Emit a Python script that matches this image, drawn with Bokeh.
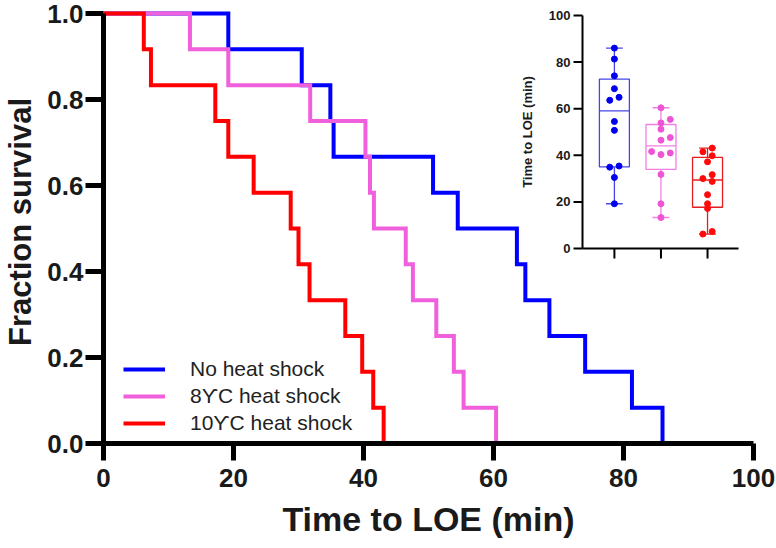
import numpy as np
from math import pi
from bokeh.plotting import figure
from bokeh.models import Range1d, Legend, LegendItem, FixedTicker
from bokeh.core.properties import value
from bokeh.embed import file_html
from bokeh.resources import INLINE

# ---------------- data ----------------
group_names = ["No heat shock", "8\u03d2C heat shock", "10\u03d2C heat shock"]
times_no_hs = [19.2, 30.5, 34.9, 35.4, 50.7, 54.5, 63.6, 64.9, 68.6, 74.1, 81.3, 86.0]
times_8c = [13.3, 19.2, 31.8, 40.3, 41.0, 41.6, 46.5, 47.6, 51.2, 53.9, 55.4, 60.4]
times_10c = [6.2, 7.3, 17.2, 19.2, 23.1, 28.8, 30.0, 31.7, 37.2, 39.8, 41.5, 43.1]

x_ticks = [0, 20, 40, 60, 80, 100]
y_ticks = [0.0, 0.2, 0.4, 0.6, 0.8, 1.0]
y_tick_labels = ["0.0", "0.2", "0.4", "0.6", "0.8", "1.0"]
inset_y_ticks = [0, 20, 40, 60, 80, 100]
inset_y_tick_labels = ["0", "20", "40", "60", "80", "100"]
inset_categories = [1, 2, 3]
inset_y_title = "Time to LOE (min)"

# ---------------- styling (not data) ----------------
line_colors = ["#0000FF", "#F060DC", "#FF0000"]
box_colors = ["#4646E6", "#F27FE6", "#E41E1E"]
point_colors = ["#0000EE", "#EE55D6", "#FF0A0A"]
jitter_no_hs = [0, 0, -1, 1, 0, 0, -1, 1, 0, 0, 0, 0]
jitter_8c = [0, 0, 0, 0, 2, -2, 0, 2, 0, 0, 2, 0]
jitter_10c = [-1, 1, 0, 0, 0, 1, -1, 1, 0, 1, -1, 1]
all_times = [times_no_hs, times_8c, times_10c]
all_jitter = [jitter_no_hs, jitter_8c, jitter_10c]

FONT = "Liberation Sans"
TXT = "#1a1a1a"

# geometry of the main frame (figure px)
W, H = 776, 548
B_LEFT, B_RIGHT, B_TOP, B_BOTTOM = 103, 23, 0, 105
FX0, FX1 = B_LEFT, W - B_RIGHT
FY0, FY1 = B_TOP, H - B_BOTTOM
Y_ONE_PX = 13  # figure y of survival 1.0
y_top = (FY1 - FY0) / (FY1 - Y_ONE_PX)

# inset geometry (figure px)
IN_L, IN_R, IN_T, IN_B = 582, 738, 15, 248
CAT_LO, CAT_HI = 0.315, 3.665
V_LO, V_HI = 0, 100
sx = (IN_R - IN_L) / (CAT_HI - CAT_LO)
sy = (IN_B - IN_T) / (V_HI - V_LO)
ix_start = CAT_LO - (IN_L - FX0) / sx
ix_end = ix_start + (FX1 - FX0) / sx
iy_start = V_LO - (FY1 - IN_B) / sy
iy_end = iy_start + (FY1 - FY0) / sy

# ---------------- main survival plot ----------------
p = figure(width=W, height=H, x_range=Range1d(0, 100), y_range=Range1d(0, y_top),
           output_backend="svg", toolbar_location=None,
           min_border_left=B_LEFT, min_border_right=B_RIGHT,
           min_border_top=B_TOP, min_border_bottom=B_BOTTOM)
p.extra_x_ranges = {"ix": Range1d(ix_start, ix_end)}
p.extra_y_ranges = {"iy": Range1d(iy_start, iy_end)}
p.xgrid.visible = False
p.ygrid.visible = False
p.outline_line_color = None

for ax in (p.xaxis[0], p.yaxis[0]):
    ax.axis_line_width = 5
    ax.axis_line_color = "black"
    ax.major_tick_line_width = 5
    ax.major_tick_line_color = "black"
    ax.major_tick_in = 0
    ax.major_tick_out = 18
    ax.minor_tick_line_color = None
    ax.major_label_text_font = FONT
    ax.major_label_text_font_style = "bold"
    ax.major_label_text_font_size = "26px"
    ax.major_label_text_color = TXT
    ax.axis_label_text_font = FONT
    ax.axis_label_text_font_style = "bold"
    ax.axis_label_text_color = TXT

p.xaxis.ticker = FixedTicker(ticks=x_ticks)
p.yaxis.ticker = FixedTicker(ticks=y_ticks)
p.xaxis.bounds = (x_ticks[0], x_ticks[-1])
p.yaxis.bounds = (y_ticks[0], y_ticks[-1])
p.yaxis.major_label_overrides = {t: l for t, l in zip(y_ticks, y_tick_labels)}
p.xaxis.axis_label = "Time to LOE (min)"
p.yaxis.axis_label = "Fraction survival"
p.xaxis.axis_label_text_font_size = "34px"
p.yaxis.axis_label_text_font_size = "31px"
p.xaxis.major_tick_out = 17
p.xaxis.major_label_standoff = 8
p.yaxis.major_label_standoff = 2
p.xaxis.axis_label_standoff = 10
p.yaxis.axis_label_standoff = 6

items = []
for name, times, col in zip(group_names, all_times, line_colors):
    n = len(times)
    xs = [0.0] + list(times)
    ys = [1.0 - i / n for i in range(n + 1)]
    r = p.step(x=xs, y=ys, mode="after", line_color=col, line_width=4, line_join="miter")
    items.append(LegendItem(label=name, renderers=[r]))

legend = Legend(items=items, location=(20, 8), orientation="vertical",
                border_line_color=None, background_fill_alpha=0,
                label_text_font=FONT, label_text_font_size="21px", label_text_color="#222222",
                glyph_width=42, glyph_height=24, label_height=24, label_standoff=25,
                spacing=3, padding=0, margin=0)
p.add_layout(legend)

# ---------------- inset box plot (drawn on extra ranges) ----------------
R = dict(x_range_name="ix", y_range_name="iy")
p.segment(x0=[CAT_LO, CAT_LO], y0=[V_LO, V_LO], x1=[CAT_LO, CAT_HI], y1=[V_HI, V_LO],
          line_color="black", line_width=2, **R)
p.segment(x0=[CAT_LO - 9 / sx] * len(inset_y_ticks), x1=[CAT_LO] * len(inset_y_ticks),
          y0=inset_y_ticks, y1=inset_y_ticks, line_color="black", line_width=2, **R)
p.segment(x0=inset_categories, x1=inset_categories, y0=[V_LO] * 3, y1=[V_LO - 10 / sy] * 3,
          line_color="black", line_width=2, **R)
p.text(x=[CAT_LO] * len(inset_y_ticks), y=inset_y_ticks, text=inset_y_tick_labels,
       x_offset=-12, text_align="right", text_baseline="middle",
       text_font=value(FONT), text_font_style="bold", text_font_size="13px",
       text_color=TXT, **R)
p.text(x=[CAT_LO], y=[(V_LO + V_HI) / 2], text=[inset_y_title], angle=pi / 2,
       x_offset=-55, text_align="center", text_baseline="middle",
       text_font=value(FONT), text_font_style="bold", text_font_size="13px",
       text_color=TXT, **R)

half_box = 0.322
half_cap = 0.18
for cat, times, jit, bc, pc in zip(inset_categories, all_times, all_jitter, box_colors, point_colors):
    arr = np.array(times)
    q1, med, q3 = np.percentile(arr, [25, 50, 75], method="weibull")
    lo, hi = arr.min(), arr.max()
    p.quad(left=[cat - half_box], right=[cat + half_box], bottom=[q1], top=[q3],
           fill_color=None, line_color=bc, line_width=1.3, **R)
    p.segment(x0=[cat - half_box], x1=[cat + half_box], y0=[med], y1=[med],
              line_color=bc, line_width=1.3, **R)
    p.segment(x0=[cat, cat], x1=[cat, cat], y0=[q3, q1], y1=[hi, lo],
              line_color=bc, line_width=1.3, **R)
    p.segment(x0=[cat - half_cap, cat - half_cap], x1=[cat + half_cap, cat + half_cap],
              y0=[hi, lo], y1=[hi, lo], line_color=bc, line_width=1.3, **R)
    xs = [cat + 0.1 * j for j in jit]
    p.scatter(x=xs, y=list(times), size=6, fill_color=pc, line_color=pc, **R)

open("out.html", "w").write(file_html(p, INLINE))
